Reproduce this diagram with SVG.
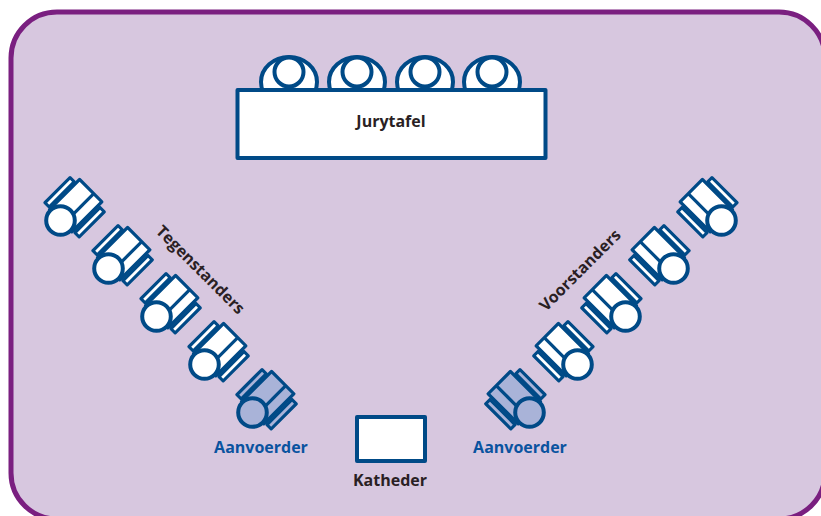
<svg xmlns="http://www.w3.org/2000/svg" width="821" height="516" viewBox="0 0 821 516">
<style>
.s{stroke:#004a87;stroke-width:3.2;stroke-linejoin:round;fill:var(--f,#fff)}
.h{stroke-width:4}
.c{--f:#a9b3d8}
.t{font-family:"Open Sans","Liberation Sans",sans-serif;font-weight:700;font-size:16px;fill:#2a1f24}
.b{fill:#0a539f}
</style>
<defs>
<g id="p">
<rect class="s" x="1.600" y="-23.600" width="35.500" height="6"/>
<rect class="s" x="1.600" y="18.800" width="35.500" height="6"/>
<rect class="s" x="0" y="-15.500" width="42.500" height="31.500"/>
<path class="s" d="M8 4.500H42.500"/>
<circle class="s h" r="14.300"/>
</g>
<g id="j">
<ellipse class="s h" cx="29" cy="10" rx="28" ry="25"/>
<circle class="s h" cx="29" cy="0" r="14.500"/>
</g>
</defs>
<rect x="0" y="0" width="821" height="516" fill="#fff"/>
<rect id="frame" x="11" y="12" width="814" height="507" rx="46" fill="#d7c7df" stroke="#7a1f80" stroke-width="5"/>
<g id="connectors"></g>
<g id="jury">
<use href="#j" x="260" y="72"/><use href="#j" x="328" y="72"/><use href="#j" x="396" y="72"/><use href="#j" x="463" y="72"/>
<rect class="s h" x="237.500" y="90" width="308" height="68"/>
<text class="t" x="391" y="127" text-anchor="middle">Jurytafel</text>
</g>
<g id="tegenstanders">
<use href="#p" transform="translate(60.500 220.500) rotate(-45)"/>
<use href="#p" transform="translate(108.500 268.500) rotate(-45)"/>
<use href="#p" transform="translate(156.500 316.500) rotate(-45)"/>
<use href="#p" transform="translate(204.500 364.500) rotate(-45)"/>
<text class="t" transform="translate(155 232) rotate(45)">Tegenstanders</text>
</g>
<g id="aanvoerder-links" class="c">
<use href="#p" transform="translate(252.500 412.500) rotate(-45)"/>
<text class="t b" x="261" y="453" text-anchor="middle">Aanvoerder</text>
</g>
<g id="voorstanders">
<use href="#p" transform="translate(721.500 220.500) scale(-1 1) rotate(-45)"/>
<use href="#p" transform="translate(673.500 268.500) scale(-1 1) rotate(-45)"/>
<use href="#p" transform="translate(625.500 316.500) scale(-1 1) rotate(-45)"/>
<use href="#p" transform="translate(577.500 364.500) scale(-1 1) rotate(-45)"/>
<text class="t" transform="translate(546 312) rotate(-45)">Voorstanders</text>
</g>
<g id="aanvoerder-rechts" class="c">
<use href="#p" transform="translate(529.500 412.500) scale(-1 1) rotate(-45)"/>
<text class="t b" x="520" y="453" text-anchor="middle">Aanvoerder</text>
</g>
<g id="katheder">
<rect class="s h" x="357" y="417" width="68" height="44"/>
<text class="t" x="390" y="486" text-anchor="middle">Katheder</text>
</g>
</svg>
